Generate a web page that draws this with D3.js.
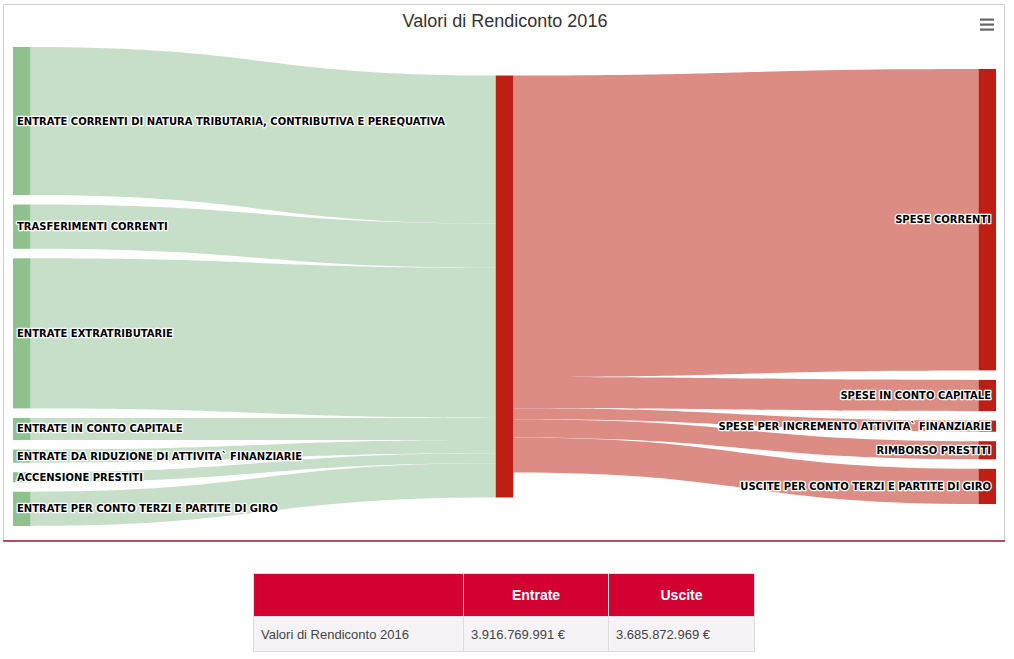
<!DOCTYPE html>
<html><head><meta charset="utf-8">
<script src="https://cdn.jsdelivr.net/npm/d3@7"></script>
<style>
body{margin:0;background:#fff;font-family:"Liberation Sans",Arial,sans-serif;width:1014px;height:659px;overflow:hidden;}
#chart{position:absolute;left:0;top:0;}
#tbl{position:absolute;left:253px;top:573px;border-collapse:collapse;font-family:"Liberation Sans",Arial,sans-serif;}
#tbl th{background:#d50032;color:#fff;font-weight:bold;font-size:14px;height:42px;border:1px solid #e4dfe4;text-align:center;padding:0 8px;}
#tbl td{background:#f5f3f6;color:#444;font-size:13px;height:34px;border:1px solid #dcdcdc;text-align:left;padding:0 7px;}
</style></head>
<body>
<svg id="chart" width="1014" height="560"></svg>
<table id="tbl"><thead><tr></tr></thead><tbody><tr></tr></tbody></table>
<script>
// ---- data ----
const chartTitle = "Valori di Rendiconto 2016";
const leftNames = [
  "ENTRATE CORRENTI DI NATURA TRIBUTARIA, CONTRIBUTIVA E PEREQUATIVA",
  "TRASFERIMENTI CORRENTI",
  "ENTRATE EXTRATRIBUTARIE",
  "ENTRATE IN CONTO CAPITALE",
  "ENTRATE DA RIDUZIONE DI ATTIVITA` FINANZIARIE",
  "ACCENSIONE PRESTITI",
  "ENTRATE PER CONTO TERZI E PARTITE DI GIRO"
];
const leftValues = [1374e6, 411e6, 1393e6, 206e6, 122e6, 93e6, 318e6];
const middleName = "";
const rightNames = [
  "SPESE CORRENTI",
  "SPESE IN CONTO CAPITALE",
  "SPESE PER INCREMENTO ATTIVITA` FINANZIARIE",
  "RIMBORSO PRESTITI",
  "USCITE PER CONTO TERZI E PARTITE DI GIRO"
];
const rightValues = [2798e6, 290e6, 103e6, 168e6, 327e6];
const tableHeader = ["", "Entrate", "Uscite"];
const tableRow = ["Valori di Rendiconto 2016", "3.916.769.991 €", "3.685.872.969 €"];

// ---- layout constants ----
const plotTop = 47, plotBottom = 526, plotLeft = 13, plotRight = 996;
const nodeWidth = 17.5, nodePad = 9.5;
const greenNode = "#8fc18f", greenLink = "#c7dfc8";
const redNode = "#be1e14", redLink = "#dd8c84";

const svg = d3.select("#chart");

// chart frame
svg.append("rect").attr("x",3.5).attr("y",4.5).attr("width",1001).attr("height",536)
  .attr("fill","none").attr("stroke","#cfcfcf");
svg.append("line").attr("x1",3).attr("x2",1005).attr("y1",541).attr("y2",541)
  .attr("stroke","#a8193d").attr("stroke-width",1.5);

// title
svg.append("text").attr("x",505).attr("y",27).attr("text-anchor","middle")
  .attr("font-size",18).attr("fill","#333").text(chartTitle);

// menu icon
[19.5,24.5,29.5].forEach(y=>svg.append("rect").attr("x",980).attr("y",y-1).attr("width",14).attr("height",2.2).attr("fill","#666"));

// columns
const sumL = d3.sum(leftValues), sumR = d3.sum(rightValues);
const middleValue = Math.max(sumL, sumR);
const columns = [
  leftNames.map((n,i)=>({name:n, value:leftValues[i], col:0, color:greenNode})),
  [{name:middleName, value:middleValue, col:1, color:redNode}],
  rightNames.map((n,i)=>({name:n, value:rightValues[i], col:2, color:redNode}))
];
const H = plotBottom - plotTop;
const k = d3.min(columns, c => (H - (c.length-1)*nodePad) / d3.sum(c, d=>d.value));
const y = d3.scaleLinear().domain([0, 1]).range([0, k]);
const x = d3.scalePoint().domain([0,1,2]).range([plotLeft, plotRight - nodeWidth]);

columns.forEach(c=>{
  const total = d3.sum(c, d=>y(d.value)) + (c.length-1)*nodePad;
  let cy = plotTop + (H-total)/2;
  c.forEach(d=>{ d.x = x(d.col); d.y = cy; d.h = y(d.value); cy += d.h + nodePad; });
});
const mid = columns[1][0];
const links = [];
let inY = mid.y;
columns[0].forEach(s=>{ links.push({x0:s.x+nodeWidth, y0:s.y, x1:mid.x, y1:inY, w:y(s.value), color:greenLink}); inY += y(s.value); });
let outY = mid.y;
columns[2].forEach(t=>{ links.push({x0:mid.x+nodeWidth, y0:outY, x1:t.x, y1:t.y, w:y(t.value), color:redLink}); outY += y(t.value); });

function linkPath(l){
  const p = d3.path(), xm = (l.x0+l.x1)/2;
  p.moveTo(l.x0, l.y0);
  p.bezierCurveTo(xm, l.y0, xm, l.y1, l.x1, l.y1);
  p.lineTo(l.x1, l.y1+l.w);
  p.bezierCurveTo(xm, l.y1+l.w, xm, l.y0+l.w, l.x0, l.y0+l.w);
  p.closePath();
  return p.toString();
}
svg.append("g").selectAll("path").data(links).join("path")
  .attr("d", linkPath).attr("fill", d=>d.color);

const nodes = columns.flat();
svg.append("g").selectAll("rect").data(nodes).join("rect")
  .attr("x", d=>d.x).attr("y", d=>d.y).attr("width", nodeWidth).attr("height", d=>d.h)
  .attr("fill", d=>d.color);

svg.append("g").selectAll("text").data(nodes.filter(d=>d.name)).join("text")
  .attr("x", d=> d.col===0 ? d.x+4 : d.x+nodeWidth-5)
  .attr("y", d=> d.y + d.h/2)
  .attr("dy","0.35em")
  .attr("text-anchor", d=> d.col===0 ? "start" : "end")
  .attr("font-family","'DejaVu Sans',Verdana,sans-serif")
  .attr("font-weight","bold").attr("font-size",10)
  .attr("fill","#000").attr("stroke","#fff").attr("stroke-width",2.6)
  .attr("stroke-linejoin","round").attr("paint-order","stroke")
  .text(d=>d.name);

// table
const colW = [209, 144, 145];
d3.select("#tbl thead tr").selectAll("th").data(tableHeader).join("th")
  .style("width",(d,i)=>colW[i]-16+"px").text(d=>d);
d3.select("#tbl tbody tr").selectAll("td").data(tableRow).join("td").text(d=>d);
</script>
</body></html>
